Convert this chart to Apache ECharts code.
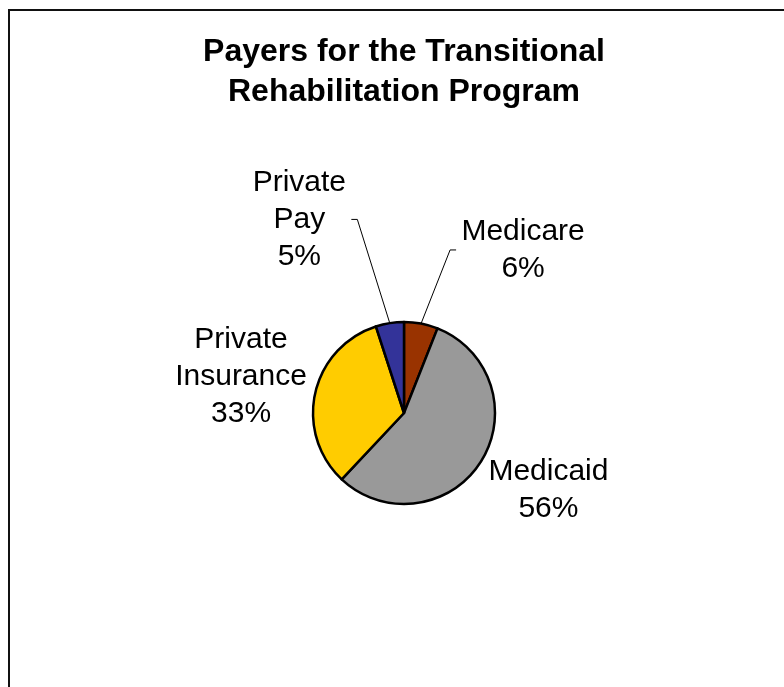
<!DOCTYPE html>
<html>
<head>
<meta charset="utf-8">
<script src="https://cdn.jsdelivr.net/npm/echarts@6/dist/echarts.min.js"></script>
<style>
  html, body { margin: 0; padding: 0; background: #ffffff; overflow: hidden; width: 784px; height: 687px; }
  #frame { position: absolute; left: 8px; top: 9px; width: 788px; height: 720px; border: 2px solid #111; background: #fff; }
  #chart { width: 788px; height: 720px; }
</style>
</head>
<body>
<div id="frame"><div id="chart"></div></div>
<script>
// ---- data ----
const titleText = 'Payers for the Transitional\nRehabilitation Program';
const categories = ['Medicare', 'Medicaid', 'Private Insurance', 'Private Pay'];
const shares = [6, 56, 33, 5];

// ---- styles ----
const sliceColors = ['#993300', '#999999', '#FFCC00', '#333399'];
const labelLineShown = [true, false, false, true];
const labelLineLen = [75, 54, 77, 105];
const labelLineLen2 = [21, -43, -72, 22];
const labelBlockWidth = [124, 120, 132, 94];
const FONT = '"Liberation Sans", Arial, Helvetica, sans-serif';

const chart = echarts.init(document.getElementById('chart'), null, { renderer: 'canvas' });

const data = categories.map((name, i) => ({
  name: name,
  value: shares[i],
  itemStyle: { color: sliceColors[i] },
  label: { rich: { t: { width: labelBlockWidth[i], align: 'center', fontSize: 30, lineHeight: 37, fontFamily: FONT, color: '#000' } } },
  labelLine: { show: labelLineShown[i], length: labelLineLen[i], length2: labelLineLen2[i] }
}));

chart.setOption({
  animation: false,
  backgroundColor: '#ffffff',
  title: {
    text: titleText,
    left: 'center',
    top: 16,
    textStyle: { fontFamily: FONT, fontSize: 32, fontWeight: 'bold', color: '#000', lineHeight: 40 }
  },
  series: [{
    type: 'pie',
    center: [394, 402],
    radius: 91,
    startAngle: 90,
    clockwise: true,
    avoidLabelOverlap: false,
    minAngle: 0,
    itemStyle: { borderColor: '#000', borderWidth: 2.5 },
    label: {
      show: true,
      position: 'outside',
      alignTo: 'none',
      distanceToLabelLine: 5,
      formatter: function (p) {
        const lines = p.name.split(' ');
        lines.push(Math.round(p.percent) + '%');
        return lines.map(l => '{t|' + l + '}').join('\n');
      }
    },
    labelLine: { smooth: false, lineStyle: { color: '#000', width: 1 } },
    labelLayout: function (params) {
      const pts = params.labelLinePoints;
      if (!pts || pts.length < 3) return {};
      const dir = pts[2][0] > pts[1][0] ? 1 : -1;
      return {
        labelLinePoints: [pts[0], [pts[2][0] - dir * 6, pts[2][1]], pts[2]]
      };
    },
    emphasis: { disabled: true },
    data: data
  }]
});
</script>
</body>
</html>
